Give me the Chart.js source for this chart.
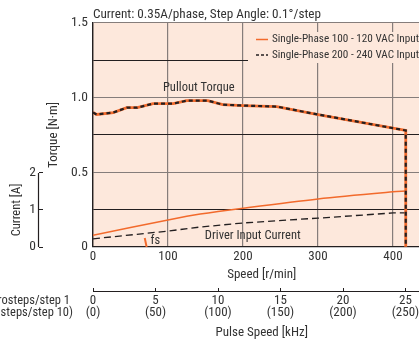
<!DOCTYPE html>
<html>
<head>
<meta charset="utf-8">
<script src="https://cdn.jsdelivr.net/npm/chart.js@4.4.1/dist/chart.umd.min.js"></script>
<style>
  html, body { margin: 0; padding: 0; background: #fff; overflow: hidden; }
  #wrap { width: 419px; height: 342px; overflow: hidden; }
  canvas { display: block; }
</style>
</head>
<body>
<div id="wrap"><canvas id="chart" width="460" height="342"></canvas></div>
<script>
/* speed-torque chart — pullout torque + driver input current */

var chartTitle = 'Current: 0.35A/phase, Step Angle: 0.1\u00b0/step';
var legendLabels = ['Single-Phase 100 - 120 VAC Input', 'Single-Phase 200 - 240 VAC Input'];

// pullout torque [N·m] vs speed [r/min] (same curve for both inputs)
var torqueSpeed = [0, 5, 27, 45, 59, 80, 99, 107, 125, 153, 173, 200, 245, 300, 417, 417];
var torqueValues = [0.9, 0.887, 0.9, 0.933, 0.933, 0.96, 0.96, 0.96, 0.98, 0.98, 0.953, 0.947, 0.94, 0.887, 0.78, 0];

// driver input current [A] vs speed [r/min]
var currentSpeed = [0, 100, 143, 200, 300, 400, 417];
var current100V = [0.32, 0.73, 0.89, 1.05, 1.30, 1.49, 1.51];
var current200V = [0.22, 0.43, 0.54, 0.65, 0.78, 0.92, 0.92];

// fs marker
var fsSpeed = [69, 71.5];
var fsTorque = [0.06, 0];

// axes
var speedTicks = [0, 100, 200, 300, 400];
var torqueTicks = [0, 0.25, 0.5, 0.75, 1.0, 1.25, 1.5];
var torqueTickLabels = ['0', '', '0.5', '', '1.0', '', '1.5'];
var currentTicks = [0, 1, 2];
var pulseTicks = [0, 5, 10, 15, 20, 25];
var pulseTicks10 = ['(0)', '(50)', '(100)', '(150)', '(200)', '(250)'];

(function () {
    'use strict';

    var FONT = "'Roboto Condensed', 'DejaVu Sans Condensed', sans-serif";
    var ORANGE = '#f26a2c';
    var BLACK = '#231f20';
    var GRAY = '#857d7b';
    var PEACH = '#fde8dc';
    var TEXT = '#333';

    var SPEED_MAX = 450;
    var RPM_PER_KHZ = 100 / 6; // 0.1 deg/step

    function pts(xs, ys) {
        return xs.map(function (x, i) { return { x: x, y: ys[i] }; });
    }

    function setTicks(list) {
        return function (scale) {
            scale.ticks = list.map(function (v) { return { value: v }; });
        };
    }

    // plot background
    var bgPlugin = {
        id: 'plotBg',
        beforeDraw: function (chart) {
            var a = chart.chartArea, c = chart.ctx;
            c.save();
            c.fillStyle = PEACH;
            c.fillRect(a.left, a.top, a.right - a.left, a.bottom - a.top);
            c.restore();
        }
    };

    // legend box, notes, current axis line + title, microstep labels
    var overlayPlugin = {
        id: 'overlay',
        afterDatasetsDraw: function (chart) {
            var c = chart.ctx;
            var sx = chart.scales.x, sy = chart.scales.y, sc = chart.scales.yc, sp = chart.scales.xp;
            var a = chart.chartArea;
            c.save();

            // legend
            var lx = 248, ly = 32;
            c.fillStyle = PEACH;
            c.fillRect(lx, ly, a.right - lx, 31);
            c.font = '11.2px ' + FONT;
            c.textBaseline = 'middle';
            c.textAlign = 'left';
            var rows = [
                { y: 39.5, color: chart.data.datasets[1].borderColor, dash: [] },
                { y: 55, color: chart.data.datasets[0].borderColor, dash: [3, 2] }
            ];
            rows.forEach(function (r, i) {
                c.strokeStyle = r.color;
                c.lineWidth = 1.5;
                c.setLineDash(r.dash);
                c.beginPath();
                c.moveTo(256, r.y);
                c.lineTo(268, r.y);
                c.stroke();
                c.setLineDash([]);
                c.fillStyle = TEXT;
                c.fillText(legendLabels[i], 272, r.y);
            });

            // annotations
            c.font = '12.5px ' + FONT;
            c.textAlign = 'center';
            c.fillStyle = TEXT;
            c.fillText('Pullout Torque', sx.getPixelForValue(141), sy.getPixelForValue(1.067));
            c.fillText('Driver Input Current', sx.getPixelForValue(213), sy.getPixelForValue(0.073));
            c.fillText('fs', sx.getPixelForValue(83), sy.getPixelForValue(0.04));

            // current axis line
            c.strokeStyle = BLACK;
            c.lineWidth = 1.2;
            c.beginPath();
            c.moveTo(sc.right - 0.5, sc.getPixelForValue(0));
            c.lineTo(sc.right - 0.5, sc.getPixelForValue(2));
            c.stroke();

            // current axis title
            c.save();
            c.translate(17, (sc.getPixelForValue(0) + sc.getPixelForValue(2)) / 2);
            c.rotate(-Math.PI / 2);
            c.textAlign = 'center';
            c.textBaseline = 'middle';
            c.fillText('Current [A]', 0, 0);
            c.restore();

            // microstep row labels
            c.textAlign = 'right';
            c.textBaseline = 'middle';
            c.fillText('Microsteps/step 1', 70, sp.top + 10);
            c.fillText('(Microsteps/step 10)', 73, sp.top + 22);

            c.restore();
        }
    };

    var ctx = document.getElementById('chart').getContext('2d');

    new Chart(ctx, {
        type: 'line',
        data: {
            datasets: [
                {
                    label: 'Pullout 200-240',
                    data: pts(torqueSpeed, torqueValues),
                    xAxisID: 'x', yAxisID: 'y',
                    borderColor: BLACK,
                    borderWidth: 2.2,
                    borderDash: [4, 3],
                    pointRadius: 0,
                    tension: 0
                },
                {
                    label: 'Pullout 100-120',
                    data: pts(torqueSpeed, torqueValues),
                    xAxisID: 'x', yAxisID: 'y',
                    borderColor: ORANGE,
                    borderWidth: 2.8,
                    pointRadius: 0,
                    tension: 0
                },
                {
                    label: 'Current 200-240',
                    data: pts(currentSpeed, current200V),
                    xAxisID: 'x', yAxisID: 'yc',
                    borderColor: BLACK,
                    borderWidth: 1.3,
                    borderDash: [7, 4],
                    pointRadius: 0,
                    tension: 0
                },
                {
                    label: 'Current 100-120',
                    data: pts(currentSpeed, current100V),
                    xAxisID: 'x', yAxisID: 'yc',
                    borderColor: ORANGE,
                    borderWidth: 1.5,
                    pointRadius: 0,
                    tension: 0.3
                },
                {
                    label: 'fs',
                    data: pts(fsSpeed, fsTorque),
                    xAxisID: 'x', yAxisID: 'y',
                    borderColor: ORANGE,
                    borderWidth: 2,
                    pointRadius: 0
                }
            ]
        },
        options: {
            responsive: false,
            animation: false,
            devicePixelRatio: 1,
            layout: { padding: { left: 0, right: 29.5, top: 0, bottom: 0 } },
            plugins: {
                legend: { display: false },
                tooltip: { enabled: false },
                title: {
                    display: true,
                    text: chartTitle,
                    align: 'start',
                    fullSize: false,
                    color: TEXT,
                    font: { family: FONT, size: 13.2, weight: 'normal', lineHeight: 1.2 },
                    padding: { top: 7.1, bottom: 0 }
                }
            },
            scales: {
                x: {
                    type: 'linear',
                    position: 'bottom',
                    weight: 0,
                    min: 0,
                    max: SPEED_MAX,
                    afterBuildTicks: setTicks(speedTicks),
                    afterFit: function (s) { s.height = 44; },
                    grid: {
                        color: function (c) { return c.tick && c.tick.value === 0 ? BLACK : GRAY; },
                        lineWidth: 1.2,
                        drawTicks: false
                    },
                    border: { display: true, color: BLACK, width: 1.3 },
                    ticks: {
                        color: TEXT,
                        padding: 1.5,
                        font: { family: FONT, size: 13 },
                        callback: function (v) { return String(v); }
                    },
                    title: {
                        display: true,
                        text: 'Speed [r/min]',
                        color: TEXT,
                        font: { family: FONT, size: 13 },
                        padding: { top: 0, bottom: 8.4 }
                    }
                },
                xp: {
                    type: 'linear',
                    position: 'bottom',
                    weight: 1,
                    min: 0,
                    max: SPEED_MAX / RPM_PER_KHZ,
                    afterBuildTicks: setTicks(pulseTicks),
                    afterFit: function (s) { s.height = 51; },
                    grid: {
                        drawOnChartArea: false,
                        color: BLACK,
                        lineWidth: 1,
                        tickLength: -3
                    },
                    border: { display: true, color: BLACK, width: 1 },
                    ticks: {
                        color: TEXT,
                        padding: 6.5,
                        font: { family: FONT, size: 13, lineHeight: 0.95 },
                        callback: function (v) {
                            var i = pulseTicks.indexOf(v);
                            return [String(v), pulseTicks10[i]];
                        }
                    },
                    title: {
                        display: true,
                        text: 'Pulse Speed [kHz]',
                        color: TEXT,
                        font: { family: FONT, size: 13 },
                        padding: { top: 0, bottom: 1.2 }
                    }
                },
                y: {
                    type: 'linear',
                    position: 'left',
                    weight: 0,
                    min: 0,
                    max: 1.5,
                    afterBuildTicks: setTicks(torqueTicks),
                    afterFit: function (s) { s.width = 54; },
                    grid: {
                        color: function (c) {
                            if (!c.tick) return GRAY;
                            var q = Math.round(c.tick.value * 4);
                            return (q % 2 === 1 || q === 0) ? BLACK : GRAY;
                        },
                        lineWidth: 1.1,
                        drawTicks: false
                    },
                    border: { display: true, color: BLACK, width: 1.3 },
                    ticks: {
                        color: TEXT,
                        padding: 5,
                        font: { family: FONT, size: 13.5 },
                        callback: function (v) {
                            var i = torqueTicks.indexOf(v);
                            return i >= 0 ? torqueTickLabels[i] : '';
                        }
                    },
                    title: {
                        display: true,
                        text: 'Torque [N\u00b7m]',
                        color: TEXT,
                        font: { family: FONT, size: 13 },
                        padding: { top: 7.2, bottom: 0 }
                    }
                },
                yc: {
                    type: 'linear',
                    position: 'left',
                    weight: 1,
                    min: 0,
                    max: 224 / 37,
                    afterBuildTicks: setTicks(currentTicks),
                    afterFit: function (s) { s.width = 39; },
                    grid: {
                        drawOnChartArea: false,
                        color: BLACK,
                        lineWidth: 1,
                        tickLength: -4
                    },
                    border: { display: false },
                    ticks: {
                        color: TEXT,
                        padding: 7,
                        font: { family: FONT, size: 13.5 },
                        callback: function (v) { return String(v); }
                    }
                }
            }
        },
        plugins: [bgPlugin, overlayPlugin]
    });
})();
</script>
</body>
</html>
